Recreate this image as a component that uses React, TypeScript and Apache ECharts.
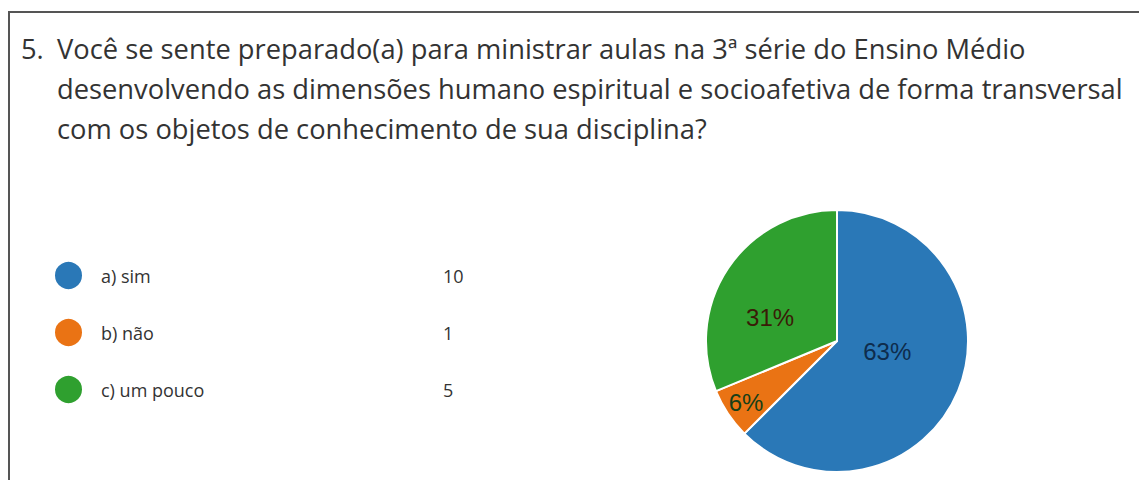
import React, { useEffect, useRef } from "react";
import * as echarts from "echarts";

const questionNumber = "5.";
const questionLines = [
  "Você se sente preparado(a) para ministrar aulas na 3ª série do Ensino Médio",
  "desenvolvendo as dimensões humano espiritual e socioafetiva de forma transversal",
  "com os objetos de conhecimento de sua disciplina?",
];
const categories = ["a) sim", "b) não", "c) um pouco"];
const counts = [10, 1, 5];
const sliceColors = ["#2a78b7", "#ea7314", "#2fa02f"];
const labelColors = ["#0e2c4c", "#173f17", "#3a1b07"];
const labelNudges = [
  [-13, -16],
  [-34, 23],
  [-10, 15],
];

export default function App() {
  const ref = useRef<HTMLDivElement>(null);
  useEffect(() => {
    if (!ref.current) return;
    const chart = echarts.init(ref.current, undefined, { renderer: "svg" });
    const total = counts.reduce((a, b) => a + b, 0);
    chart.setOption({
      animation: false,
      backgroundColor: "#ffffff",
      title: [
        {
          text: questionNumber,
          left: 21,
          top: 28,
          padding: 0,
          textStyle: {
            fontFamily: "Open Sans",
            fontSize: 27.3,
            fontWeight: "normal",
            color: "#333333",
            lineHeight: 40,
          },
        },
        {
          text: questionLines.join("\n"),
          left: 57,
          top: 28,
          padding: 0,
          textStyle: {
            fontFamily: "Open Sans",
            fontSize: 27.3,
            fontWeight: "normal",
            color: "#333333",
            lineHeight: 40,
          },
        },
      ],
      legend: {
        orient: "vertical",
        left: 53,
        top: 260,
        padding: 0,
        itemWidth: 29,
        itemHeight: 29,
        itemGap: 26,
        icon: "circle",
        selectedMode: false,
        data: categories,
        formatter: (name: string) => {
          const i = categories.indexOf(name);
          return `{n|${name}}{v|${counts[i]}}`;
        },
        textStyle: {
          fontFamily: "Open Sans",
          fontSize: 18,
          color: "#333333",
          rich: {
            n: {
              width: 342,
              padding: [0, 0, 0, 13],
              fontFamily: "Open Sans",
              fontSize: 18,
              color: "#333333",
            },
            v: {
              fontFamily: "Open Sans",
              fontSize: 18,
              color: "#333333",
            },
          },
        },
      },
      graphic: [
        {
          type: "line",
          shape: { x1: 8, y1: 12, x2: 1139, y2: 12 },
          style: { stroke: "#555555", lineWidth: 2 },
          silent: true,
        },
        {
          type: "line",
          shape: { x1: 9, y1: 11, x2: 9, y2: 480 },
          style: { stroke: "#555555", lineWidth: 2 },
          silent: true,
        },
      ],
      series: [
        {
          type: "pie",
          center: [837, 341],
          radius: 131,
          startAngle: 90,
          clockwise: true,
          avoidLabelOverlap: false,
          emphasis: { disabled: true },
          itemStyle: { borderColor: "#ffffff", borderWidth: 2 },
          label: {
            show: true,
            position: "inside",
            fontFamily: "Liberation Sans",
            fontSize: 24,
            formatter: (p: any) => `${Math.round((p.value / total) * 100)}%`,
          },
          labelLine: { show: false },
          labelLayout: (p: any) => ({
            dx: labelNudges[p.dataIndex][0],
            dy: labelNudges[p.dataIndex][1],
          }),
          data: categories.map((name, i) => ({
            name,
            value: counts[i],
            itemStyle: { color: sliceColors[i] },
            label: { color: labelColors[i] },
          })),
        },
      ],
    });
    return () => chart.dispose();
  }, []);
  return (
    <div
      ref={ref}
      style={{ position: "absolute", left: 0, top: 0, width: 1139, height: 480 }}
    />
  );
}
